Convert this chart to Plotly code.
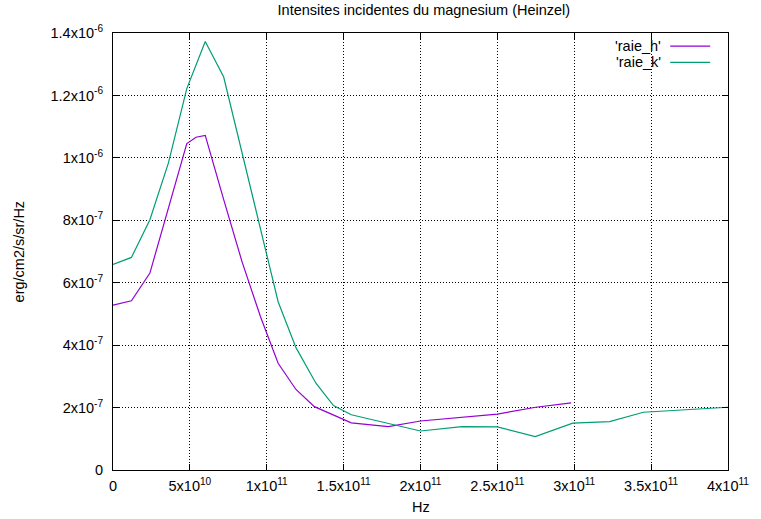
import plotly.graph_objects as go

# Frequency grid (Hz) and incident intensities (erg/cm2/s/sr/Hz)
freq_h = [0.0, 0.12e11, 0.24e11, 0.48e11, 0.54e11, 0.60e11, 0.72e11, 0.84e11,
          0.96e11, 1.074e11, 1.19e11, 1.31e11, 1.55e11, 1.79e11, 2.0e11,
          2.5e11, 2.75e11, 2.98e11]
raie_h = [5.28e-7, 5.42e-7, 6.31e-7, 10.46e-7, 10.66e-7, 10.72e-7, 8.66e-7, 6.66e-7,
          4.90e-7, 3.42e-7, 2.58e-7, 2.03e-7, 1.51e-7, 1.39e-7, 1.57e-7,
          1.79e-7, 2.01e-7, 2.15e-7]

freq_k = [0.0, 0.12e11, 0.24e11, 0.36e11, 0.48e11, 0.60e11, 0.72e11, 1.074e11,
          1.19e11, 1.32e11, 1.434e11, 1.55e11, 2.0e11, 2.27e11, 2.5e11,
          2.746e11, 2.99e11, 3.23e11, 3.45e11, 4.0e11]
raie_k = [6.585e-7, 6.81e-7, 8.02e-7, 9.83e-7, 12.22e-7, 13.73e-7, 12.59e-7, 5.39e-7,
          3.92e-7, 2.78e-7, 2.065e-7, 1.77e-7, 1.25e-7, 1.39e-7, 1.38e-7,
          1.07e-7, 1.50e-7, 1.55e-7, 1.85e-7, 2.01e-7]

x_tickvals = [0, 0.5e11, 1e11, 1.5e11, 2e11, 2.5e11, 3e11, 3.5e11, 4e11]
x_ticktext = ["0", "5x10<sup>10</sup>", "1x10<sup>11</sup>", "1.5x10<sup>11</sup>",
              "2x10<sup>11</sup>", "2.5x10<sup>11</sup>", "3x10<sup>11</sup>",
              "3.5x10<sup>11</sup>", "4x10<sup>11</sup>"]
y_tickvals = [0, 2e-7, 4e-7, 6e-7, 8e-7, 1e-6, 1.2e-6, 1.4e-6]
y_ticktext = ["0", "2x10<sup>-7</sup>", "4x10<sup>-7</sup>", "6x10<sup>-7</sup>",
              "8x10<sup>-7</sup>", "1x10<sup>-6</sup>", "1.2x10<sup>-6</sup>",
              "1.4x10<sup>-6</sup>"]

series = [
    ("'raie_h'", freq_h, raie_h, "#9400d3"),
    ("'raie_k'", freq_k, raie_k, "#009e73"),
]

FONT = "Liberation Sans, Arial, sans-serif"
FSIZE = 14.5

fig = go.Figure()
for name, xs, ys, color in series:
    fig.add_trace(go.Scatter(x=xs, y=ys, mode="lines", name=name,
                             line=dict(color=color, width=1.2),
                             showlegend=False))

# gnuplot-style key: label right-aligned, line sample to its right
annotations = []
shapes = []
for i, (name, xs, ys, color) in enumerate(series):
    yk = 0.970 - i * 0.037
    annotations.append(dict(text=name, xref="paper", yref="paper", x=0.894, y=yk,
                            xanchor="right", yanchor="middle", showarrow=False,
                            font=dict(size=FSIZE, color="black", family=FONT)))
    shapes.append(dict(type="line", xref="paper", yref="paper",
                       x0=0.906, x1=0.971, y0=yk, y1=yk,
                       line=dict(color=color, width=1.2)))

annotations.append(dict(text="erg/cm2/s/sr/Hz", xref="paper", yref="paper",
                        x=-0.153, y=0.5, textangle=-90, showarrow=False,
                        xanchor="center", yanchor="middle",
                        font=dict(size=FSIZE, color="black", family=FONT)))
annotations.append(dict(text="Hz", xref="paper", yref="paper",
                        x=0.5, y=-0.085, showarrow=False,
                        xanchor="center", yanchor="middle",
                        font=dict(size=FSIZE, color="black", family=FONT)))

axis_common = dict(
    showline=True, linecolor="black", linewidth=1, mirror="ticks",
    ticks="inside", ticklen=6, tickcolor="black", tickwidth=1,
    showgrid=True, gridcolor="#000000", gridwidth=0.6, griddash="1px,2px",
    zeroline=False, tickfont=dict(size=FSIZE, color="black", family=FONT),
)

fig.update_layout(
    width=761, height=519,
    margin=dict(l=113, r=26, t=33, b=49),
    paper_bgcolor="white", plot_bgcolor="white",
    font=dict(family=FONT, color="black"),
    title=dict(text="Intensites incidentes du magnesium (Heinzel)",
               x=0.557, xanchor="center", y=1 - 10 / 519, yanchor="middle",
               font=dict(size=FSIZE, color="black", family=FONT)),
    xaxis=dict(range=[0, 4e11], tickvals=x_tickvals, ticktext=x_ticktext,
               ticklabelstandoff=3, **axis_common),
    yaxis=dict(range=[0, 1.4e-6], tickvals=y_tickvals, ticktext=y_ticktext,
               ticklabelstandoff=6, **axis_common),
    annotations=annotations,
    shapes=shapes,
)

fig.write_html("out.html")
